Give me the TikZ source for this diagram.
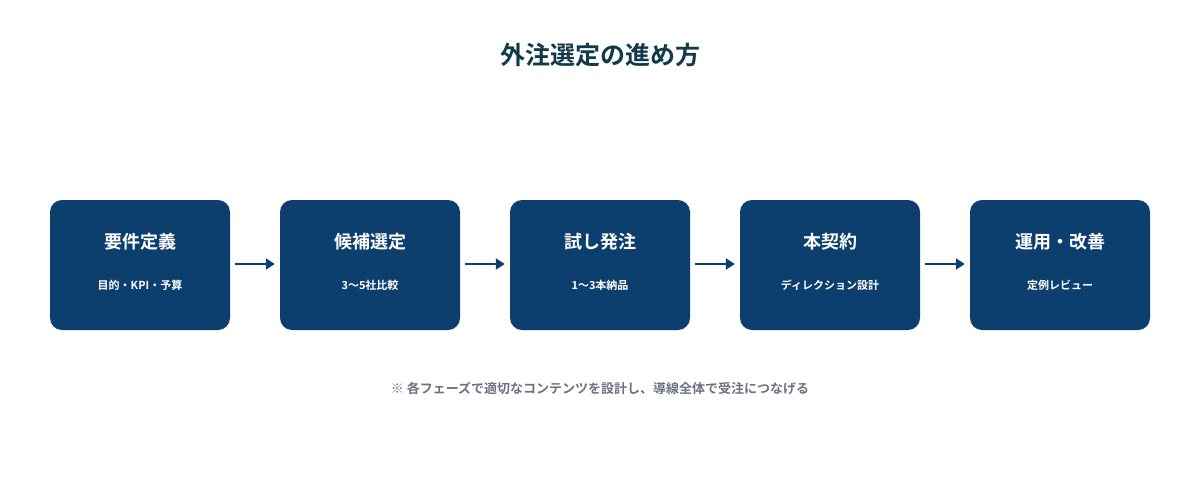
\documentclass[tikz,border=0pt]{standalone}
\usepackage{fontspec}
\setmainfont{Noto Sans CJK JP}[BoldFont={* Bold}]
\usetikzlibrary{arrows.meta}
\definecolor{navy}{HTML}{0D3F6E}
\definecolor{titlec}{HTML}{123A4A}
\definecolor{notec}{HTML}{6B7280}
\begin{document}
\begin{tikzpicture}[x=1pt,y=-1pt,
  box/.style={fill=navy,rounded corners=12pt,minimum width=180pt,minimum height=130pt,inner sep=0pt},
  ttl/.style={text=white,font=\fontsize{18}{20}\selectfont\bfseries},
  sub/.style={text=white,font=\fontsize{11}{13}\selectfont\bfseries},
  arr/.style={draw=navy,line width=2.5pt,-{Triangle[length=9pt,width=11pt]}}]
\useasboundingbox[fill=white] (0,0) rectangle (1200,480);
\node[text=titlec,font=\fontsize{25}{28}\selectfont\bfseries] (title) at (600,55) {外注選定の進め方};
\foreach \i/\x/\a/\b in {1/140/要件定義/目的・KPI・予算,2/370/候補選定/3〜5社比較,3/600/試し発注/1〜3本納品,4/830/本契約/ディレクション設計,5/1060/運用・改善/定例レビュー}{
  \node[box] (b\i) at (\x,265) {};
  \node[ttl] (t\i) at (\x,242) {\a};
  \node[sub] (s\i) at (\x,285) {\b};
}
\foreach \i/\j in {1/2,2/3,3/4,4/5}{
  \draw[arr] ([xshift=5pt,yshift=1pt]b\i.east) -- ([xshift=-5pt,yshift=1pt]b\j.west);
}
\node[text=notec,font=\fontsize{13}{15}\selectfont\bfseries] (note) at (600,388) {※ 各フェーズで適切なコンテンツを設計し、導線全体で受注につなげる};
\end{tikzpicture}
\end{document}
